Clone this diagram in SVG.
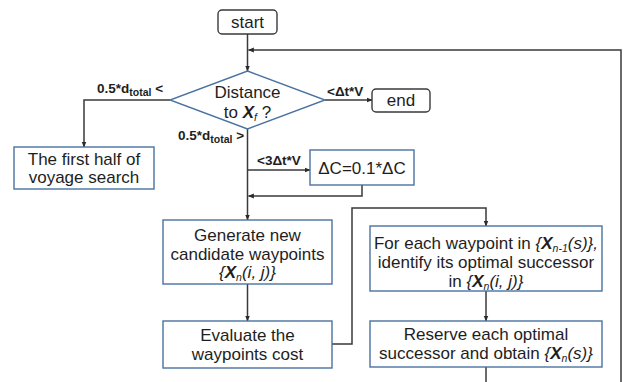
<svg xmlns="http://www.w3.org/2000/svg" width="625" height="382" viewBox="0 0 625 382">
  <defs>
    <marker id="arrow" viewBox="0 0 10 10" refX="9" refY="5" markerWidth="6" markerHeight="6" orient="auto" markerUnits="userSpaceOnUse">
      <path d="M0,1 L10,5 L0,9 z" fill="#2b2b2b"/>
    </marker>
    <style>
      .bg { fill: #ffffff; }
      .box { fill: #ffffff; stroke: #4a72a0; stroke-width: 1.4; }
      .term { fill: #ffffff; stroke: #3a3a3a; stroke-width: 1.4; }
      .dia { fill: #ffffff; stroke: #4a72a0; stroke-width: 1.4; }
      .wire { fill: none; stroke: #3a3a3a; stroke-width: 1.5; }
      .arr { marker-end: url(#arrow); }
      .t { font-family: "Liberation Sans", Arial, sans-serif; font-size: 17px; fill: #1e1e1e; text-anchor: middle; }
      .lbl { font-family: "Liberation Sans", Arial, sans-serif; font-size: 13.5px; font-weight: bold; fill: #1e1e1e; }
      .sub { font-size: 10.5px; }
      .bi { font-weight: bold; font-style: italic; }
      .it { font-style: italic; }
    </style>
  </defs>

  <rect class="bg" x="0" y="0" width="625" height="382"/>

  <!-- connectors -->
  <g id="connectors">
    <path class="wire arr" d="M247.5,34 L247.5,71"/>
    <path class="wire arr" d="M621,382 L621,50 L248.5,50"/>
    <path class="wire arr" d="M170,100 L84,100 L84,147"/>
    <path class="wire arr" d="M325,100 L372,100"/>
    <path class="wire arr" d="M247.5,129 L247.5,220"/>
    <path class="wire arr" d="M247.5,170 L310,170"/>
    <path class="wire arr" d="M362,185 L362,196 L248.5,196"/>
    <path class="wire arr" d="M247.5,284 L247.5,321"/>
    <path class="wire arr" d="M332,344 L352,344 L352,208 L486,208 L486,226"/>
    <path class="wire arr" d="M486,291 L486,321"/>
    <path class="wire" d="M486,367 L486,382"/>
  </g>

  <!-- branch labels -->
  <g id="labels">
    <text class="lbl" x="97" y="93">0.5*d<tspan class="sub" dy="3">total</tspan><tspan dy="-3"> &lt;</tspan></text>
    <text class="lbl" x="178" y="140">0.5*d<tspan class="sub" dy="3">total</tspan><tspan dy="-3"> &gt;</tspan></text>
    <text class="lbl" x="327" y="96">&lt;Δt*V</text>
    <text class="lbl" x="257" y="165">&lt;3Δt*V</text>
  </g>

  <g id="start">
    <rect class="term" x="218" y="10" width="59" height="24" rx="4"/>
    <text class="t" x="247.5" y="28">start</text>
  </g>

  <g id="decision">
    <polygon class="dia" points="247.5,71 325,100 247.5,129 170,100"/>
    <text class="t" x="247.5" y="98">Distance</text>
    <text class="t" x="247.5" y="118">to  <tspan class="bi">X</tspan><tspan class="it sub" dy="3">f</tspan><tspan dy="-3"> ?</tspan></text>
  </g>

  <g id="end">
    <rect class="term" x="372" y="89" width="58" height="23" rx="4"/>
    <text class="t" x="401" y="106">end</text>
  </g>

  <g id="first-half">
    <rect class="box" x="14" y="147" width="140" height="42"/>
    <text class="t" x="84" y="165">The first half of</text>
    <text class="t" x="84" y="183">voyage search</text>
  </g>

  <g id="delta-c">
    <rect class="box" x="310" y="150" width="104" height="35"/>
    <text class="t" x="362" y="174">ΔC=0.1*ΔC</text>
  </g>

  <g id="generate">
    <rect class="box" x="163" y="220" width="169" height="64"/>
    <text class="t" x="247.5" y="241">Generate new</text>
    <text class="t" x="247.5" y="260">candidate waypoints</text>
    <text class="t" x="247.5" y="278"><tspan class="it">{</tspan><tspan class="bi">X</tspan><tspan class="it sub" dy="3">n</tspan><tspan class="it" dy="-3">(i, j)}</tspan></text>
  </g>

  <g id="evaluate">
    <rect class="box" x="163" y="321" width="169" height="47"/>
    <text class="t" x="247.5" y="341">Evaluate the</text>
    <text class="t" x="247.5" y="360">waypoints cost</text>
  </g>

  <g id="successor">
    <rect class="box" x="370" y="226" width="232" height="65"/>
    <text class="t" x="486" y="249">For each waypoint in <tspan class="it">{</tspan><tspan class="bi">X</tspan><tspan class="it sub" dy="3">n-1</tspan><tspan class="it" dy="-3">(s)},</tspan></text>
    <text class="t" x="486" y="268">identify its optimal successor</text>
    <text class="t" x="486" y="287">in <tspan class="it">{</tspan><tspan class="bi">X</tspan><tspan class="it sub" dy="3">n</tspan><tspan class="it" dy="-3">(i, j)}</tspan></text>
  </g>

  <g id="reserve">
    <rect class="box" x="370" y="321" width="232" height="46"/>
    <text class="t" x="486" y="340">Reserve each optimal</text>
    <text class="t" x="486" y="359">successor and obtain <tspan class="it">{</tspan><tspan class="bi">X</tspan><tspan class="it sub" dy="3">n</tspan><tspan class="it" dy="-3">(s)}</tspan></text>
  </g>
</svg>
